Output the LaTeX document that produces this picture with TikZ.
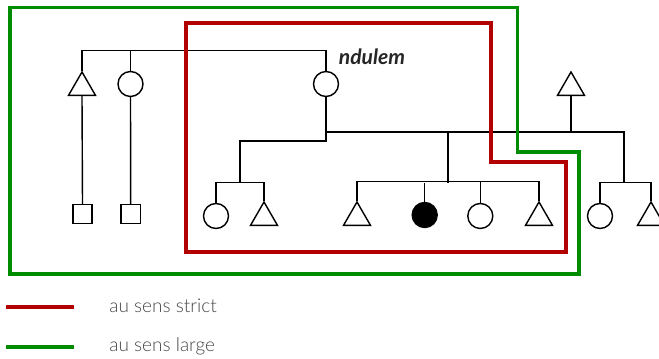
\documentclass[tikz,border=0pt]{standalone}
\usepackage{fontspec}
\setmainfont{Lato}
\newfontfamily\keyfont{Lato Light}
\usepackage{xcolor}
\usetikzlibrary{shapes.geometric,positioning,calc}

\definecolor{strictred}{RGB}{178,0,0}
\definecolor{largegreen}{RGB}{0,140,0}
\definecolor{keygray}{RGB}{70,70,70}

\begin{document}
\begin{tikzpicture}[
  x=0.025cm, y=-0.025cm,
  line width=1pt,
  male/.style={regular polygon, regular polygon sides=3, draw, inner sep=0pt,
    minimum size=0.78cm},
  female/.style={circle, draw, inner sep=0pt, minimum size=0.625cm},
  unknown/.style={rectangle, draw, inner sep=0pt, minimum size=0.475cm},
  ego/.style={female, fill=black},
  bound/.style={line width=2.4pt, line join=miter},
  keytext/.style={font=\keyfont\fontsize{13.5}{15}\selectfont, text=keygray, anchor=west},
]
  \useasboundingbox (0,0) rectangle (659,359);

  % Upper generation
  \node[male] (a) at (82,87.6) {};
  \node[female] (b) at (130.5,84) {};
  \node[female] (c) at (326,84) {};
  \node[male] (f) at (571,87.6) {};
  \node[font=\fontsize{15}{17}\selectfont\bfseries\itshape, text=black!85]
    (lbl) at (372,56.5) {ndulem};

  % Lower generation, left
  \node[unknown] (d) at (82.5,214) {};
  \node[unknown] (e) at (130.7,214) {};

  % Children of ndulem
  \node[female] (g1) at (216,216) {};
  \node[male] (g2) at (264,217.6) {};
  \node[male] (k1) at (357,217.6) {};
  \node[ego] (k2) at (424.7,215) {};
  \node[female] (k3) at (480.3,216) {};
  \node[male] (k4) at (539,217.6) {};
  \node[female] (h1) at (600,216) {};
  \node[male] (h2) at (651,217.6) {};

  % Junctions
  \coordinate (mar) at (326,132);
  \coordinate (sib1) at (240,183);
  \coordinate (sib2) at (448,183);
  \coordinate (sib3) at (624,183);

  % Sibling line, upper generation
  \draw (a.north) -- ++(0,-20) -| (c.north);
  \draw (b.north) -- ++(0,-19.5);
  \draw (a.south) -- (d.north);
  \draw (b.south) -- (e.north);

  % Marriage line
  \draw (c.south) -- (mar) -| (sib3);
  \draw (f.south) -- (f.south |- mar);
  \draw (sib2) -- (sib2 |- mar);
  \draw (mar) -- ++(0,9) -| (sib1);

  % Sibling bars, lower generation
  \draw (g1.north) -- ++(0,-20.5) -| (g2.north);
  \draw (k1.north) -- ++(0,-19) -| (k4.north);
  \draw (k2.north) -- ++(0,-19);
  \draw (k3.north) -- ++(0,-20.5);
  \draw (h1.north) -- ++(0,-20.5) -| (h2.north);

  % Boundaries
  \draw[bound, strictred] (186,23) -- (491,23) -- (491,162) -- (566,162)
    -- (566,252) -- (186,252) -- cycle;
  \draw[bound, largegreen] (10,7.5) -- (517.7,7.5) -- (517.7,152) -- (579,152)
    -- (579,274) -- (10,274) -- cycle;

  % Legend
  \draw[bound, strictred] (6,307) -- (74,307);
  \draw[bound, largegreen] (6,347) -- (74,347);
  \node[keytext] (kstrict) at (104,306) {au sens strict};
  \node[keytext] (klarge) at (104,346) {au sens large};
\end{tikzpicture}
\end{document}
